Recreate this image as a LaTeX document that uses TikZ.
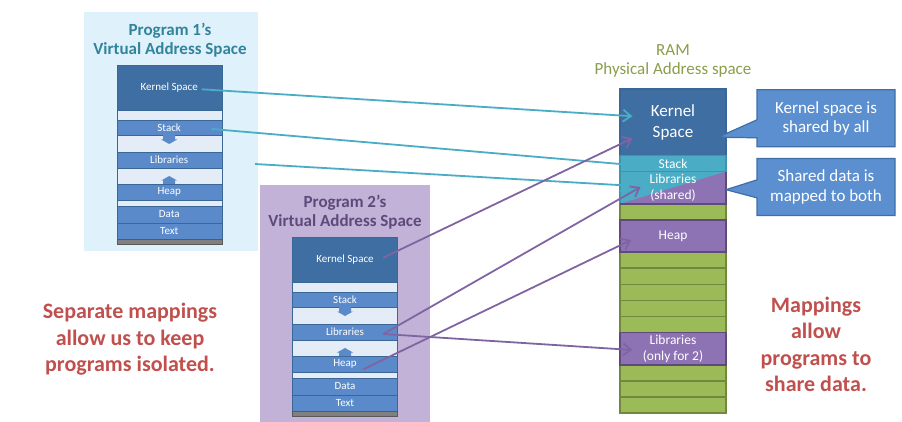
\documentclass[tikz,border=0pt]{standalone}
\usepackage{fontspec}
\setmainfont{Carlito}
\usetikzlibrary{positioning,arrows.meta,calc,shapes.callouts}

\definecolor{kernblue}{HTML}{3F6EA2}
\definecolor{segblue}{HTML}{5A8ACA}
\definecolor{segline}{HTML}{3B6796}
\definecolor{gapblue}{HTML}{E3ECF7}
\definecolor{progonebg}{HTML}{DFF1FA}
\definecolor{progtwobg}{HTML}{C2B2D7}
\definecolor{progonetitle}{HTML}{31849B}
\definecolor{progtwotitle}{HTML}{5F497A}
\definecolor{ramtitle}{HTML}{8A9D4B}
\definecolor{ramgreen}{HTML}{9BBB59}
\definecolor{ramgreenline}{HTML}{71893F}
\definecolor{rampurple}{HTML}{8E73B4}
\definecolor{rampurpleline}{HTML}{5F4A7B}
\definecolor{ramcyan}{HTML}{4BACC6}
\definecolor{ramcyanline}{HTML}{3D95AD}
\definecolor{calloutblue}{HTML}{5B8FD0}
\definecolor{calloutline}{HTML}{3F6FA6}
\definecolor{notered}{HTML}{C0504D}
\definecolor{mapcyan}{HTML}{4BACC6}
\definecolor{mappurple}{HTML}{8064A2}

% one program's virtual address space: #1 prefix, #2 x, #3 top y
\newcommand\progstack[3]{%
  \node[kernrow, minimum height=45pt, anchor=north] (#1kern) at (#2,#3) {Kernel Space};
  \node[gaprow, minimum height=10pt, below=of #1kern] (#1gapa) {};
  \node[segrow, minimum height=15pt, below=of #1gapa] (#1stack) {Stack};
  \node[gaprow, minimum height=17pt, below=of #1stack] (#1gapb) {};
  \node[segrow, minimum height=16pt, below=of #1gapb] (#1lib) {Libraries};
  \node[gaprow, minimum height=16pt, below=of #1lib] (#1gapc) {};
  \node[segrow, minimum height=16pt, below=of #1gapc] (#1heap) {Heap};
  \node[gaprow, minimum height=6pt, below=of #1heap] (#1gapd) {};
  \node[segrow, minimum height=17pt, below=of #1gapd] (#1data) {Data};
  \node[segrow, minimum height=16pt, below=of #1data] (#1text) {Text};
  \node[baserow, minimum height=5pt, below=of #1text] (#1base) {};
  \fill[segblue] ([xshift=-6pt]#1gapb.north) -- ++(12,0) -- ++(0,4.5) -- ++(2,0)
    -- ++(-8,4.5) -- ++(-8,-4.5) -- ++(2,0) -- cycle;
  \fill[segblue] ([xshift=-6pt]#1gapc.south) -- ++(12,0) -- ++(0,-3.5) -- ++(2,0)
    -- ++(-8,-4.5) -- ++(-8,4.5) -- ++(2,0) -- cycle;
}

\begin{document}
\begin{tikzpicture}[x=1pt, y=-1pt, node distance=0pt,
  >={Straight Barb[length=8pt,width=12pt]},
  every node/.style={inner sep=0pt, outer sep=0pt, align=center},
  kernrow/.style={draw=segline, fill=kernblue, minimum width=105pt, text=white,
    font=\fontsize{11}{13}\selectfont},
  segrow/.style={kernrow, fill=segblue},
  gaprow/.style={kernrow, fill=gapblue},
  baserow/.style={draw=black!65, fill=black!50, minimum width=105pt},
  ramrow/.style={draw=ramgreenline, line width=1.5pt, fill=ramgreen,
    minimum width=106pt, minimum height=16.1pt},
  ramblk/.style={line width=1.5pt, minimum width=106pt, text=white,
    font=\fontsize{13.5}{15.5}\selectfont},
  progtitle/.style={font=\fontsize{17}{19}\selectfont\bfseries},
  callbox/.style={rectangle callout, draw=calloutline, line width=1.2pt,
    fill=calloutblue, text=white, minimum width=138pt, minimum height=57pt,
    callout pointer width=18pt, font=\fontsize{17}{19.5}\selectfont},
  notetext/.style={text=notered, font=\fontsize{22}{26.5}\selectfont\bfseries},
  maparrow/.style={->, line width=1.8pt}]
  \useasboundingbox (0,0) rectangle (902,422);

  % program panels
  \node[fill=progonebg, minimum width=174pt, minimum height=239pt, anchor=north west]
    (panelone) at (84,12) {};
  \node[fill=progtwobg, minimum width=170pt, minimum height=237pt, anchor=north west]
    (paneltwo) at (260,185) {};
  \node[progtitle, text=progonetitle] (titleone) at (170,40) {Program 1’s\\Virtual Address Space};
  \node[progtitle, text=progtwotitle] (titletwo) at (345,212) {Program 2’s\\Virtual Address Space};
  \progstack{p1}{169.2}{65}
  \progstack{p2}{345}{237}

  % physical memory
  \node[text=ramtitle, font=\fontsize{17}{19}\selectfont] (ramtitle) at (673,60.5)
    {RAM\\Physical Address space};
  \node[ramblk, fill=kernblue, draw=segline, minimum height=66.5pt, anchor=north,
    font=\fontsize{17}{21}\selectfont] (rkern) at (673,89) {Kernel\\Space};
  \foreach \i in {0,...,15}
    \node[ramrow, anchor=north] (r\i) at (673,155.5+16.1*\i) {};
  \node[ramblk, fill=ramcyan, draw=ramcyanline, minimum height=16.1pt, anchor=north]
    (rstack) at (r0.north) {Stack};
  \node[ramblk, fill=ramcyan, draw=ramcyanline, minimum height=32.2pt, anchor=north]
    (rlibs) at (r1.north) {};
  \fill[rampurple] (rlibs.south west) -- (rlibs.north east) -- (rlibs.south east) -- cycle;
  \draw[rampurpleline, line width=1.5pt] (rlibs.south west) -- (rlibs.south east) -- (rlibs.north east);
  \node[ramblk] (rlibslabel) at (rlibs) {Libraries\\(shared)};
  \node[ramblk, fill=rampurple, draw=rampurpleline, minimum height=32.2pt, anchor=north]
    (rheap) at (r4.north) {Heap};
  \node[ramblk, fill=rampurple, draw=rampurpleline, minimum height=32.2pt, anchor=north]
    (rlibsb) at (r11.north) {Libraries\\(only for 2)};

  % callouts
  \node[callbox, callout absolute pointer={($(rkern.east)+(-8,15)$)}] (callkern)
    at (826,118.3) {Kernel space is\\shared by all};
  \node[callbox, callout absolute pointer={($(rlibs.east)+(0,2)$)}] (callshare)
    at (826,187) {Shared data is\\mapped to both};

  \node[notetext] (noteleft) at (130,339.5) {Separate mappings\\allow us to keep\\programs isolated.};
  \node[notetext] (noteright) at (816,344.5) {Mappings\\allow\\programs to\\share data.};

  % mappings
  \draw[maparrow, mapcyan] ([xshift=32.5pt,yshift=-1.8pt]p1kern.center) -- ([xshift=12.5pt,yshift=6pt]rkern.west);
  \draw[maparrow, mapcyan] ([xshift=42.5pt,yshift=-1.5pt]p1stack.center) -- ([xshift=12.5pt,yshift=-1.5pt]rstack.west);
  \draw[maparrow, mapcyan] ([xshift=33.3pt,yshift=-4pt]p1lib.east) -- ([xshift=10pt,yshift=2pt]rlibs.west);
  \draw[maparrow, mappurple] ([xshift=38.3pt,yshift=1.8pt]p2kern.center) -- ([xshift=12.5pt,yshift=-16pt]rkern.west);
  \draw[maparrow, mappurple] ([xshift=38.3pt,yshift=-2pt]p2lib.center) -- ([xshift=20.5pt,yshift=0.7pt]rlibs.west);
  \draw[maparrow, mappurple] ([xshift=38.3pt,yshift=-2pt]p2lib.center) -- ([xshift=12.5pt,yshift=-1.3pt]rlibsb.west);
  \draw[maparrow, mappurple] ([xshift=18.3pt,yshift=-5.3pt]p2heap.center) -- ([xshift=11.2pt,yshift=-4pt]rheap.west);
\end{tikzpicture}
\end{document}
